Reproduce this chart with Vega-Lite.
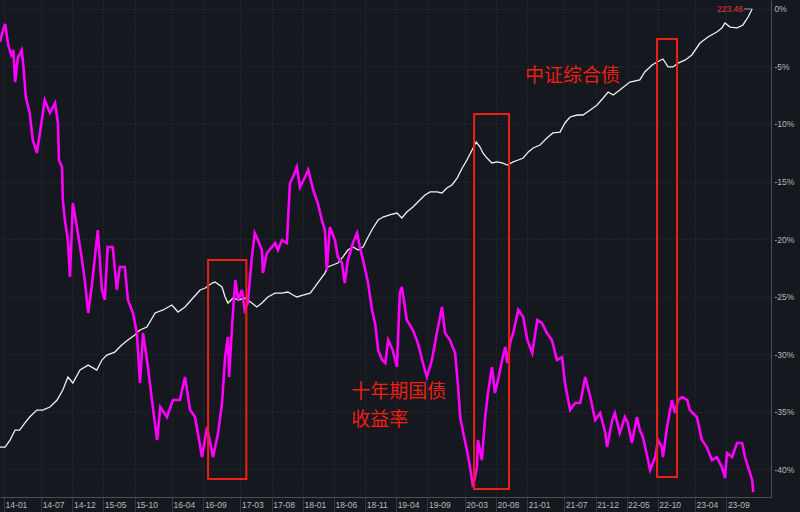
{
"$schema": "https://vega.github.io/schema/vega-lite/v6.json",
"width": 771, "height": 497,
"autosize": {"type": "none"},
"padding": {"left": 0, "top": 0, "right": 29, "bottom": 15},
"background": "#15181e",
"config": {"view": {"stroke": null}, "axis": {"labelFont": "Liberation Sans", "labelFontSize": 8.5, "labelColor": "#b8b8b8", "gridColor": "#2c3039", "gridDash": [1, 2], "domainColor": "#4b4e55", "tickColor": "#33363d"}},
"datasets": {
"yield": [
{"date":"2013-12-12","value":-2.87},{"date":"2013-12-27","value":-1.83},{"date":"2014-01-06","value":-1.30},{"date":"2014-01-21","value":-3.13},{"date":"2014-02-05","value":-4.00},{"date":"2014-02-15","value":-3.57},{"date":"2014-02-24","value":-6.35},{"date":"2014-03-09","value":-4.26},{"date":"2014-03-28","value":-3.57},{"date":"2014-04-07","value":-5.30},{"date":"2014-04-17","value":-7.65},{"date":"2014-05-06","value":-9.04},{"date":"2014-05-21","value":-11.39},{"date":"2014-06-10","value":-12.52},{"date":"2014-06-25","value":-10.78},{"date":"2014-07-19","value":-7.91},{"date":"2014-08-13","value":-9.04},{"date":"2014-09-07","value":-8.17},{"date":"2014-09-21","value":-9.91},{"date":"2014-09-26","value":-13.13},{"date":"2014-10-11","value":-13.74},{"date":"2014-10-15","value":-16.61},{"date":"2014-10-25","value":-18.35},{"date":"2014-11-09","value":-20.09},{"date":"2014-11-19","value":-23.30},{"date":"2014-12-03","value":-16.87},{"date":"2014-12-23","value":-18.96},{"date":"2015-01-17","value":-21.83},{"date":"2015-02-01","value":-23.83},{"date":"2015-02-16","value":-26.43},{"date":"2015-03-05","value":-24.17},{"date":"2015-04-04","value":-19.22},{"date":"2015-04-24","value":-24.43},{"date":"2015-05-08","value":-25.30},{"date":"2015-05-22","value":-20.70},{"date":"2015-06-16","value":-20.70},{"date":"2015-07-06","value":-24.43},{"date":"2015-07-20","value":-22.43},{"date":"2015-08-14","value":-22.43},{"date":"2015-08-29","value":-25.30},{"date":"2015-09-23","value":-26.43},{"date":"2015-10-12","value":-28.17},{"date":"2015-10-27","value":-32.52},{"date":"2015-11-11","value":-28.17},{"date":"2015-12-05","value":-31.13},{"date":"2015-12-29","value":-34.61},{"date":"2016-01-19","value":-37.48},{"date":"2016-02-03","value":-34.61},{"date":"2016-03-07","value":-35.48},{"date":"2016-04-05","value":-34.00},{"date":"2016-05-09","value":-34.00},{"date":"2016-06-03","value":-32.00},{"date":"2016-06-28","value":-34.87},{"date":"2016-07-22","value":-35.48},{"date":"2016-08-11","value":-37.48},{"date":"2016-08-25","value":-38.96},{"date":"2016-09-19","value":-36.35},{"date":"2016-10-18","value":-38.96},{"date":"2016-11-12","value":-36.87},{"date":"2016-12-01","value":-34.26},{"date":"2016-12-16","value":-30.26},{"date":"2016-12-30","value":-28.52},{"date":"2017-01-05","value":-32.00},{"date":"2017-01-20","value":-27.30},{"date":"2017-02-04","value":-23.57},{"date":"2017-02-18","value":-25.30},{"date":"2017-03-08","value":-24.43},{"date":"2017-03-22","value":-26.17},{"date":"2017-04-06","value":-25.57},{"date":"2017-04-26","value":-21.57},{"date":"2017-05-10","value":-19.48},{"date":"2017-05-25","value":-20.09},{"date":"2017-06-14","value":-20.96},{"date":"2017-06-19","value":-22.96},{"date":"2017-07-08","value":-21.22},{"date":"2017-08-02","value":-20.70},{"date":"2017-08-17","value":-20.35},{"date":"2017-08-31","value":-20.96},{"date":"2017-09-20","value":-20.09},{"date":"2017-10-14","value":-20.35},{"date":"2017-10-29","value":-15.13},{"date":"2017-11-13","value":-14.61},{"date":"2017-12-02","value":-13.74},{"date":"2017-12-17","value":-15.48},{"date":"2018-01-11","value":-14.61},{"date":"2018-01-26","value":-14.00},{"date":"2018-02-20","value":-15.74},{"date":"2018-03-14","value":-16.87},{"date":"2018-04-03","value":-18.35},{"date":"2018-04-18","value":-19.22},{"date":"2018-04-27","value":-22.70},{"date":"2018-05-12","value":-18.96},{"date":"2018-06-06","value":-20.09},{"date":"2018-06-20","value":-21.57},{"date":"2018-07-10","value":-22.09},{"date":"2018-07-24","value":-23.83},{"date":"2018-08-08","value":-21.83},{"date":"2018-09-02","value":-20.35},{"date":"2018-09-22","value":-19.48},{"date":"2018-10-06","value":-20.70},{"date":"2018-10-21","value":-21.83},{"date":"2018-11-15","value":-23.83},{"date":"2018-12-04","value":-26.17},{"date":"2018-12-19","value":-27.30},{"date":"2019-01-03","value":-29.65},{"date":"2019-01-22","value":-30.52},{"date":"2019-02-07","value":-30.78},{"date":"2019-02-21","value":-28.78},{"date":"2019-03-15","value":-29.65},{"date":"2019-04-05","value":-31.13},{"date":"2019-04-19","value":-24.70},{"date":"2019-04-29","value":-24.17},{"date":"2019-05-23","value":-27.04},{"date":"2019-06-22","value":-27.91},{"date":"2019-07-16","value":-29.04},{"date":"2019-08-10","value":-30.78},{"date":"2019-08-29","value":-32.00},{"date":"2019-09-23","value":-30.52},{"date":"2019-10-17","value":-28.17},{"date":"2019-11-11","value":-25.91},{"date":"2019-11-26","value":-28.17},{"date":"2019-12-20","value":-28.78},{"date":"2020-01-14","value":-29.91},{"date":"2020-01-29","value":-32.87},{"date":"2020-02-08","value":-35.48},{"date":"2020-02-23","value":-36.87},{"date":"2020-03-12","value":-38.35},{"date":"2020-03-27","value":-39.83},{"date":"2020-04-11","value":-41.57},{"date":"2020-04-30","value":-39.83},{"date":"2020-05-05","value":-37.48},{"date":"2020-05-24","value":-39.22},{"date":"2020-06-09","value":-35.48},{"date":"2020-06-23","value":-33.39},{"date":"2020-07-12","value":-31.13},{"date":"2020-07-27","value":-33.39},{"date":"2020-08-11","value":-32.26},{"date":"2020-08-31","value":-30.52},{"date":"2020-09-15","value":-29.39},{"date":"2020-09-25","value":-30.78},{"date":"2020-10-09","value":-29.04},{"date":"2020-10-24","value":-28.17},{"date":"2020-11-18","value":-26.17},{"date":"2020-12-12","value":-26.78},{"date":"2021-01-01","value":-28.78},{"date":"2021-01-25","value":-29.91},{"date":"2021-02-19","value":-27.04},{"date":"2021-03-13","value":-27.30},{"date":"2021-04-07","value":-28.17},{"date":"2021-05-01","value":-28.78},{"date":"2021-05-26","value":-30.52},{"date":"2021-06-20","value":-30.26},{"date":"2021-07-04","value":-32.52},{"date":"2021-07-29","value":-34.87},{"date":"2021-08-23","value":-34.26},{"date":"2021-09-17","value":-34.26},{"date":"2021-10-11","value":-32.00},{"date":"2021-11-05","value":-33.74},{"date":"2021-11-29","value":-35.74},{"date":"2021-12-23","value":-35.13},{"date":"2022-01-17","value":-36.87},{"date":"2022-01-26","value":-38.09},{"date":"2022-02-20","value":-35.74},{"date":"2022-03-05","value":-35.13},{"date":"2022-03-29","value":-36.87},{"date":"2022-04-23","value":-35.48},{"date":"2022-05-07","value":-36.00},{"date":"2022-05-27","value":-37.74},{"date":"2022-06-21","value":-35.48},{"date":"2022-07-05","value":-36.61},{"date":"2022-07-20","value":-37.22},{"date":"2022-08-14","value":-39.22},{"date":"2022-08-24","value":-40.09},{"date":"2022-09-18","value":-38.96},{"date":"2022-10-02","value":-37.48},{"date":"2022-10-21","value":-38.09},{"date":"2022-10-26","value":-38.96},{"date":"2022-11-15","value":-36.35},{"date":"2022-12-09","value":-34.00},{"date":"2022-12-24","value":-35.13},{"date":"2023-01-08","value":-34.00},{"date":"2023-01-28","value":-33.74},{"date":"2023-02-22","value":-34.00},{"date":"2023-03-06","value":-34.87},{"date":"2023-04-10","value":-35.48},{"date":"2023-05-04","value":-37.48},{"date":"2023-05-28","value":-38.09},{"date":"2023-06-22","value":-39.22},{"date":"2023-07-16","value":-38.96},{"date":"2023-08-10","value":-39.83},{"date":"2023-08-25","value":-40.78},{"date":"2023-09-04","value":-38.61},{"date":"2023-09-29","value":-38.96},{"date":"2023-10-23","value":-37.74},{"date":"2023-11-17","value":-37.74},{"date":"2023-12-01","value":-38.96},{"date":"2023-12-16","value":-39.83},{"date":"2024-01-05","value":-40.96},{"date":"2024-01-10","value":-42.00}
],
"cbond": [
{"date":"2013-12-12","value":-38.09},{"date":"2014-01-06","value":-38.09},{"date":"2014-01-30","value":-37.48},{"date":"2014-02-24","value":-36.61},{"date":"2014-03-18","value":-36.61},{"date":"2014-04-12","value":-36.00},{"date":"2014-05-06","value":-35.48},{"date":"2014-06-10","value":-34.87},{"date":"2014-07-09","value":-34.87},{"date":"2014-08-13","value":-34.61},{"date":"2014-09-17","value":-34.00},{"date":"2014-10-15","value":-33.13},{"date":"2014-11-09","value":-32.00},{"date":"2014-12-03","value":-32.52},{"date":"2015-01-07","value":-31.39},{"date":"2015-02-16","value":-30.96},{"date":"2015-03-30","value":-31.39},{"date":"2015-04-24","value":-30.52},{"date":"2015-05-18","value":-30.09},{"date":"2015-06-26","value":-29.83},{"date":"2015-07-30","value":-29.22},{"date":"2015-08-29","value":-28.78},{"date":"2015-10-02","value":-28.35},{"date":"2015-10-27","value":-27.91},{"date":"2015-11-30","value":-27.65},{"date":"2016-01-09","value":-26.43},{"date":"2016-02-17","value":-26.17},{"date":"2016-03-31","value":-25.74},{"date":"2016-04-30","value":-26.35},{"date":"2016-06-03","value":-25.91},{"date":"2016-07-12","value":-25.13},{"date":"2016-08-16","value":-24.43},{"date":"2016-09-10","value":-24.26},{"date":"2016-10-14","value":-23.83},{"date":"2016-10-28","value":-23.74},{"date":"2016-12-01","value":-24.17},{"date":"2016-12-16","value":-25.04},{"date":"2016-12-30","value":-25.57},{"date":"2017-01-24","value":-25.13},{"date":"2017-02-18","value":-25.30},{"date":"2017-03-22","value":-25.13},{"date":"2017-04-26","value":-25.57},{"date":"2017-05-20","value":-25.91},{"date":"2017-06-14","value":-25.57},{"date":"2017-07-13","value":-25.04},{"date":"2017-08-17","value":-24.70},{"date":"2017-09-20","value":-24.70},{"date":"2017-10-19","value":-24.61},{"date":"2017-11-13","value":-24.87},{"date":"2017-12-02","value":-25.04},{"date":"2018-01-01","value":-24.87},{"date":"2018-02-05","value":-24.70},{"date":"2018-02-28","value":-24.17},{"date":"2018-03-24","value":-23.57},{"date":"2018-04-18","value":-22.96},{"date":"2018-05-02","value":-22.43},{"date":"2018-05-26","value":-22.26},{"date":"2018-06-20","value":-22.09},{"date":"2018-07-14","value":-21.57},{"date":"2018-08-08","value":-20.96},{"date":"2018-09-02","value":-20.70},{"date":"2018-09-27","value":-20.96},{"date":"2018-10-21","value":-20.70},{"date":"2018-11-15","value":-19.83},{"date":"2018-12-09","value":-19.04},{"date":"2019-01-03","value":-18.35},{"date":"2019-01-27","value":-18.09},{"date":"2019-02-28","value":-17.91},{"date":"2019-04-05","value":-17.74},{"date":"2019-04-29","value":-18.17},{"date":"2019-05-23","value":-17.65},{"date":"2019-06-22","value":-17.22},{"date":"2019-07-26","value":-16.61},{"date":"2019-08-20","value":-16.17},{"date":"2019-09-14","value":-15.91},{"date":"2019-10-17","value":-15.91},{"date":"2019-11-11","value":-16.00},{"date":"2019-12-05","value":-15.57},{"date":"2019-12-30","value":-15.30},{"date":"2020-01-24","value":-14.70},{"date":"2020-02-18","value":-13.83},{"date":"2020-03-12","value":-13.13},{"date":"2020-04-06","value":-12.26},{"date":"2020-04-26","value":-11.57},{"date":"2020-05-15","value":-12.00},{"date":"2020-05-29","value":-12.52},{"date":"2020-06-18","value":-12.96},{"date":"2020-07-12","value":-13.39},{"date":"2020-08-06","value":-13.30},{"date":"2020-08-31","value":-13.39},{"date":"2020-09-25","value":-13.57},{"date":"2020-10-24","value":-13.30},{"date":"2020-11-18","value":-13.13},{"date":"2020-12-12","value":-12.96},{"date":"2021-01-06","value":-12.43},{"date":"2021-01-30","value":-12.09},{"date":"2021-03-04","value":-11.83},{"date":"2021-04-07","value":-11.22},{"date":"2021-05-06","value":-10.78},{"date":"2021-06-10","value":-10.70},{"date":"2021-07-04","value":-9.91},{"date":"2021-07-29","value":-9.39},{"date":"2021-09-02","value":-9.22},{"date":"2021-09-30","value":-9.22},{"date":"2021-11-05","value":-8.78},{"date":"2021-12-08","value":-8.35},{"date":"2022-01-07","value":-7.74},{"date":"2022-01-31","value":-7.22},{"date":"2022-02-25","value":-7.48},{"date":"2022-03-29","value":-7.04},{"date":"2022-05-17","value":-6.35},{"date":"2022-07-05","value":-6.17},{"date":"2022-07-29","value":-5.48},{"date":"2022-09-03","value":-4.87},{"date":"2022-09-27","value":-4.61},{"date":"2022-10-26","value":-4.35},{"date":"2022-11-20","value":-5.04},{"date":"2022-12-14","value":-5.04},{"date":"2023-01-08","value":-4.70},{"date":"2023-02-12","value":-4.43},{"date":"2023-03-16","value":-4.00},{"date":"2023-04-25","value":-2.96},{"date":"2023-06-03","value":-2.43},{"date":"2023-07-16","value":-2.00},{"date":"2023-08-10","value":-1.65},{"date":"2023-08-25","value":-1.22},{"date":"2023-09-19","value":-1.57},{"date":"2023-10-23","value":-1.65},{"date":"2023-11-21","value":-1.39},{"date":"2023-12-16","value":-0.70},{"date":"2024-01-05","value":0}
],
"boxes": [
{"date":"2016-09-24","date2":"2017-03-30","value":-21.83,"value2":-40.87},
{"date":"2020-04-16","date2":"2020-10-04","value":-9.13,"value2":-41.74},
{"date":"2022-09-27","date2":"2023-01-03","value":-2.61,"value2":-40.70}
],
"notes": [
{"date":"2020-12-21","value":-5.83,"text":"中证综合债"},
{"date":"2018-08-25","value":-33.26,"text":"十年期国债"},
{"date":"2018-08-25","value":-35.70,"text":"收益率"}
],
"tag": [
{"date":"2023-11-26","date2":"2024-01-05","value":0,"text":"223.46"}
]
},
"encoding": {
"x": {"field": "date", "type": "temporal", "title": null,
 "scale": {"type": "utc", "domain": [{"year": 2013, "month": 12, "date": 12, "utc": true}, {"year": 2024, "month": 4, "date": 6, "utc": true}]},
 "axis": {"values": [
  {"year":2014,"month":1,"date":1,"utc":true},{"year":2014,"month":7,"date":1,"utc":true},{"year":2014,"month":12,"date":1,"utc":true},{"year":2015,"month":5,"date":1,"utc":true},{"year":2015,"month":10,"date":1,"utc":true},{"year":2016,"month":4,"date":1,"utc":true},{"year":2016,"month":9,"date":1,"utc":true},{"year":2017,"month":3,"date":1,"utc":true},{"year":2017,"month":8,"date":1,"utc":true},{"year":2018,"month":1,"date":1,"utc":true},{"year":2018,"month":6,"date":1,"utc":true},{"year":2018,"month":11,"date":1,"utc":true},{"year":2019,"month":4,"date":1,"utc":true},{"year":2019,"month":9,"date":1,"utc":true},{"year":2020,"month":3,"date":1,"utc":true},{"year":2020,"month":8,"date":1,"utc":true},{"year":2021,"month":1,"date":1,"utc":true},{"year":2021,"month":7,"date":1,"utc":true},{"year":2021,"month":12,"date":1,"utc":true},{"year":2022,"month":5,"date":1,"utc":true},{"year":2022,"month":10,"date":1,"utc":true},{"year":2023,"month":4,"date":1,"utc":true},{"year":2023,"month":9,"date":1,"utc":true}],
  "labelExpr": "utcFormat(datum.value, '%y-%m')", "grid": true, "tickSize": 15, "labelPadding": -12, "labelAlign": "left", "labelBaseline": "top", "labelOffset": 1, "labelFlush": false, "labelOverlap": false, "title": null}},
"y": {"field": "value", "type": "quantitative", "title": null,
 "scale": {"domain": [-42.43, 0.78], "nice": false, "zero": false},
 "axis": {"orient": "right", "values": [0, -5, -10, -15, -20, -25, -30, -35, -40], "labelExpr": "datum.value + '%'", "grid": true, "ticks": false, "labelPadding": 3, "labelAlign": "left", "labelBaseline": "middle", "title": null}}
},
"layer": [
{"data": {"name": "cbond"}, "mark": {"type": "line", "color": "#efefef", "strokeWidth": 1.3}, "encoding": {}},
{"data": {"name": "yield"}, "mark": {"type": "line", "color": "#ff00ff", "strokeWidth": 2.6}, "encoding": {}},
{"data": {"name": "boxes"}, "mark": {"type": "rect", "fill": "transparent", "stroke": "#ee2015", "strokeWidth": 2}, "encoding": {"x2": {"field": "date2"}, "y2": {"field": "value2"}}},
{"data": {"name": "notes"}, "mark": {"type": "text", "align": "left", "baseline": "middle", "font": "Noto Sans CJK SC", "fontSize": 19, "color": "#f21e12"}, "encoding": {"text": {"field": "text", "type": "nominal"}}},
{"data": {"name": "tag"}, "mark": {"type": "rule", "color": "#9a9a9a", "strokeWidth": 1}, "encoding": {"x2": {"field": "date2"}}},
{"data": {"name": "tag"}, "mark": {"type": "text", "align": "right", "baseline": "middle", "font": "Liberation Sans", "fontSize": 8.5, "color": "#e8323c", "dx": -1}, "encoding": {"text": {"field": "text", "type": "nominal"}}}
]
}
